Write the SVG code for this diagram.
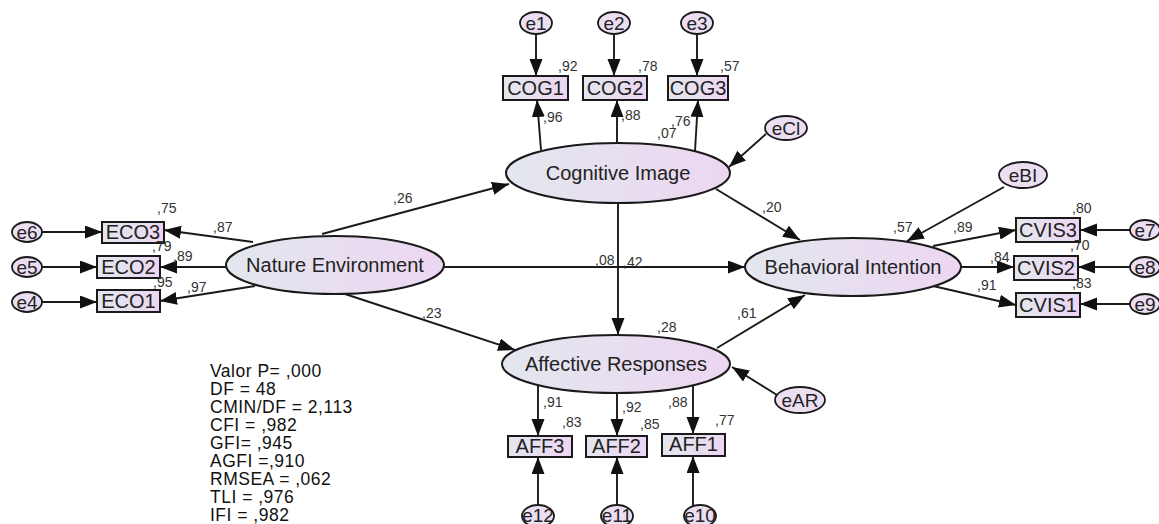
<svg xmlns="http://www.w3.org/2000/svg" width="1159" height="524" viewBox="0 0 1159 524">
<defs>
<linearGradient id="g" x1="0" y1="0" x2="1" y2="0">
<stop offset="0" stop-color="#e3e7ee"/>
<stop offset="1" stop-color="#ecd6f2"/>
</linearGradient>
<marker id="ah" markerUnits="userSpaceOnUse" markerWidth="18" markerHeight="14" refX="17" refY="6.5" orient="auto">
<path d="M0,0 L17,6.5 L0,13 z" fill="#111"/>
</marker>
<style>
.lat{fill:url(#g);stroke:#1a1a1a;stroke-width:2}
.obs{fill:url(#g);stroke:#1a1a1a;stroke-width:2}
.err{fill:#ecdef2;stroke:#1a1a1a;stroke-width:1.8}
.big{font-family:"Liberation Sans",Arial,sans-serif;font-size:20px;fill:#222;text-anchor:middle}
.box{font-family:"Liberation Sans",Arial,sans-serif;font-size:20px;fill:#222;text-anchor:middle}
.el{font-family:"Liberation Sans",Arial,sans-serif;font-size:19px;fill:#222;text-anchor:middle}
.num{font-family:"Liberation Sans",Arial,sans-serif;font-size:14px;fill:#333}
.fit{font-family:"Liberation Sans",Arial,sans-serif;font-size:17.5px;letter-spacing:0.5px;fill:#111}
.c{stroke:#1a1a1a;stroke-width:1.9;fill:none;marker-end:url(#ah)}
</style>
</defs>
<rect width="1159" height="524" fill="#fff"/>

<g id="connectors">
<line class="c" x1="536" y1="34" x2="536" y2="76"/>
<line class="c" x1="614" y1="34" x2="614" y2="76"/>
<line class="c" x1="697" y1="34" x2="697" y2="76"/>
<line class="c" x1="541" y1="150" x2="537" y2="100"/>
<line class="c" x1="617" y1="143" x2="617" y2="100"/>
<line class="c" x1="695" y1="151" x2="698" y2="100"/>
<line class="c" x1="766" y1="134" x2="729" y2="167"/>
<line class="c" x1="322" y1="234" x2="509" y2="184"/>
<line class="c" x1="253" y1="242" x2="164" y2="230"/>
<line class="c" x1="226" y1="267" x2="160" y2="267"/>
<line class="c" x1="255" y1="286" x2="160" y2="301"/>
<line class="c" x1="42" y1="232" x2="102" y2="232"/>
<line class="c" x1="42" y1="267" x2="97" y2="267"/>
<line class="c" x1="42" y1="302" x2="97" y2="302"/>
<line class="c" x1="444" y1="267" x2="745" y2="267"/>
<line class="c" x1="618" y1="203" x2="618" y2="335"/>
<line class="c" x1="345" y1="294" x2="515" y2="350"/>
<line class="c" x1="717" y1="348" x2="805" y2="295"/>
<line class="c" x1="716" y1="189" x2="800" y2="240"/>
<line class="c" x1="1004" y1="187" x2="907" y2="241"/>
<line class="c" x1="933" y1="246" x2="1016" y2="230"/>
<line class="c" x1="961" y1="267" x2="1014" y2="267"/>
<line class="c" x1="933" y1="286" x2="1016" y2="305"/>
<line class="c" x1="1130" y1="230" x2="1080" y2="230"/>
<line class="c" x1="1130" y1="267" x2="1078" y2="267"/>
<line class="c" x1="1130" y1="304" x2="1080" y2="304"/>
<line class="c" x1="538" y1="386" x2="538" y2="436"/>
<line class="c" x1="617" y1="393" x2="617" y2="436"/>
<line class="c" x1="693" y1="386" x2="693" y2="434"/>
<line class="c" x1="538" y1="506" x2="538" y2="457"/>
<line class="c" x1="617" y1="506" x2="617" y2="457"/>
<line class="c" x1="693" y1="506" x2="693" y2="456"/>
<line class="c" x1="777" y1="395" x2="732" y2="367"/>
</g>

<g id="NatureEnvironment"><ellipse class="lat" cx="335" cy="265" rx="109" ry="29"/><text class="big" x="335" y="272">Nature Environment</text></g>
<g id="CognitiveImage"><ellipse class="lat" cx="618" cy="173" rx="112" ry="30"/><text class="big" x="618" y="180">Cognitive Image</text></g>
<g id="BehavioralIntention"><ellipse class="lat" cx="853" cy="267" rx="108" ry="29"/><text class="big" x="853" y="274">Behavioral Intention</text></g>
<g id="AffectiveResponses"><ellipse class="lat" cx="616" cy="364" rx="114" ry="29"/><text class="big" x="616" y="371">Affective Responses</text></g>

<g id="COG1"><rect class="obs" x="503" y="76" width="65" height="24"/><text class="box" x="535.5" y="95">COG1</text></g>
<g id="COG2"><rect class="obs" x="583" y="76" width="64" height="24"/><text class="box" x="615" y="95">COG2</text></g>
<g id="COG3"><rect class="obs" x="668" y="76" width="60" height="24"/><text class="box" x="698" y="95">COG3</text></g>

<g id="ECO3"><rect class="obs" x="102" y="222" width="62" height="21"/><text class="box" x="133" y="239">ECO3</text></g>
<g id="ECO2"><rect class="obs" x="97" y="256" width="63" height="22"/><text class="box" x="128.5" y="274">ECO2</text></g>
<g id="ECO1"><rect class="obs" x="97" y="290" width="63" height="22"/><text class="box" x="128.5" y="308">ECO1</text></g>

<g id="CVIS3"><rect class="obs" x="1016" y="218" width="64" height="24"/><text class="box" x="1048" y="237">CVIS3</text></g>
<g id="CVIS2"><rect class="obs" x="1014" y="256" width="64" height="24"/><text class="box" x="1046" y="275">CVIS2</text></g>
<g id="CVIS1"><rect class="obs" x="1016" y="293" width="64" height="24"/><text class="box" x="1048" y="312">CVIS1</text></g>

<g id="AFF3"><rect class="obs" x="508" y="436" width="64" height="21"/><text class="box" x="540" y="453">AFF3</text></g>
<g id="AFF2"><rect class="obs" x="586" y="436" width="61" height="21"/><text class="box" x="616.5" y="453">AFF2</text></g>
<g id="AFF1"><rect class="obs" x="662" y="434" width="63" height="22"/><text class="box" x="693.5" y="451">AFF1</text></g>

<g id="e1"><ellipse class="err" cx="536" cy="23" rx="16" ry="11"/><text class="el" x="536" y="30">e1</text></g>
<g id="e2"><ellipse class="err" cx="614" cy="23" rx="16" ry="11"/><text class="el" x="614" y="30">e2</text></g>
<g id="e3"><ellipse class="err" cx="697" cy="23" rx="16" ry="11"/><text class="el" x="697" y="30">e3</text></g>
<g id="e6"><ellipse class="err" cx="27" cy="232" rx="15" ry="10"/><text class="el" x="27" y="239">e6</text></g>
<g id="e5"><ellipse class="err" cx="27" cy="267" rx="15" ry="10"/><text class="el" x="27" y="274">e5</text></g>
<g id="e4"><ellipse class="err" cx="27" cy="302" rx="15" ry="10"/><text class="el" x="27" y="309">e4</text></g>
<g id="e7"><ellipse class="err" cx="1145" cy="230" rx="15" ry="10"/><text class="el" x="1145" y="237">e7</text></g>
<g id="e8"><ellipse class="err" cx="1145" cy="267" rx="15" ry="10"/><text class="el" x="1145" y="274">e8</text></g>
<g id="e9"><ellipse class="err" cx="1145" cy="304" rx="15" ry="10"/><text class="el" x="1145" y="311">e9</text></g>
<g id="e12"><ellipse class="err" cx="538" cy="516" rx="16" ry="11"/><text class="el" x="538" y="522">e12</text></g>
<g id="e11"><ellipse class="err" cx="617" cy="516" rx="16" ry="11"/><text class="el" x="617" y="522">e11</text></g>
<g id="e10"><ellipse class="err" cx="700" cy="516" rx="16" ry="11"/><text class="el" x="700" y="522">e10</text></g>
<g id="eCl"><ellipse class="err" cx="786" cy="128" rx="21" ry="12"/><text class="el" x="786" y="135">eCl</text></g>
<g id="eBI"><ellipse class="err" cx="1023" cy="175" rx="24" ry="13"/><text class="el" x="1023" y="182">eBI</text></g>
<g id="eAR"><ellipse class="err" cx="800" cy="400" rx="25" ry="13"/><text class="el" x="800" y="407">eAR</text></g>

<g id="labels">
<text class="num" x="558" y="71">,92</text>
<text class="num" x="638" y="71">,78</text>
<text class="num" x="720" y="71">,57</text>
<text class="num" x="543" y="122">,96</text>
<text class="num" x="621" y="120">,88</text>
<text class="num" x="671" y="126">,76</text>
<text class="num" x="657" y="138">,07</text>
<text class="num" x="157" y="213">,75</text>
<text class="num" x="213" y="232">,87</text>
<text class="num" x="152" y="251">,79</text>
<text class="num" x="173" y="261">,89</text>
<text class="num" x="153" y="287">,95</text>
<text class="num" x="187" y="292">,97</text>
<text class="num" x="393" y="203">,26</text>
<text class="num" x="595" y="265">,08</text>
<text class="num" x="623" y="267">,42</text>
<text class="num" x="422" y="318">,23</text>
<text class="num" x="762" y="212">,20</text>
<text class="num" x="893" y="232">,57</text>
<text class="num" x="953" y="232">,89</text>
<text class="num" x="1072" y="213">,80</text>
<text class="num" x="1070" y="250">,70</text>
<text class="num" x="990" y="262">,84</text>
<text class="num" x="977" y="290">,91</text>
<text class="num" x="1072" y="288">,83</text>
<text class="num" x="657" y="332">,28</text>
<text class="num" x="737" y="318">,61</text>
<text class="num" x="543" y="407">,91</text>
<text class="num" x="622" y="412">,92</text>
<text class="num" x="668" y="407">,88</text>
<text class="num" x="562" y="427">,83</text>
<text class="num" x="640" y="429">,85</text>
<text class="num" x="715" y="425">,77</text>
</g>

<g id="fit">
<text class="fit" x="210" y="377">Valor P= ,000</text>
<text class="fit" x="210" y="395">DF = 48</text>
<text class="fit" x="210" y="413">CMIN/DF = 2,113</text>
<text class="fit" x="210" y="431">CFI = ,982</text>
<text class="fit" x="210" y="449">GFI= ,945</text>
<text class="fit" x="210" y="467">AGFI =,910</text>
<text class="fit" x="210" y="485">RMSEA = ,062</text>
<text class="fit" x="210" y="503">TLI = ,976</text>
<text class="fit" x="210" y="521">IFI = ,982</text>
</g>
</svg>
